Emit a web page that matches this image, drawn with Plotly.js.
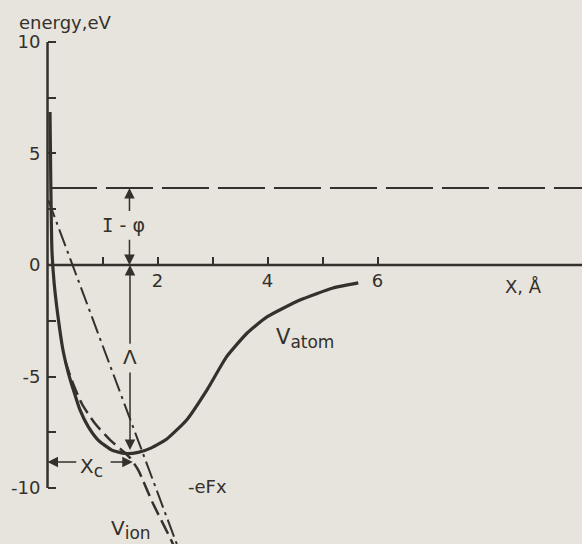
<!DOCTYPE html>
<html>
<head>
<meta charset="utf-8">
<script src="https://cdn.plot.ly/plotly-3.0.1.min.js"></script>
<style>
  html, body { margin: 0; padding: 0; background: #e6e4dc; }
  #plot { width: 582px; height: 544px; }
</style>
</head>
<body>
<div id="plot"></div>
<script>
// Potential energy of the atom and of the ion near a surface under an applied field
const atomX = [0.045, 0.06, 0.08, 0.12, 0.19, 0.28, 0.385, 0.47, 0.59, 0.74, 0.92, 1.17, 1.41, 1.65, 1.89, 2.17, 2.53, 2.90, 3.26, 3.63, 3.99, 4.59, 5.19, 5.65];
const atomY = [6.86, 3.6, 0.67, -0.8, -2.3, -3.8, -4.9, -5.6, -6.5, -7.25, -7.85, -8.3, -8.45, -8.4, -8.2, -7.8, -6.95, -5.6, -4.1, -3.05, -2.33, -1.57, -1.03, -0.8];

const ionX = [0.32, 0.44, 0.62, 0.86, 1.14, 1.35, 1.50, 1.65, 1.90, 2.26, 2.33];
const ionY = [-4.3, -5.16, -6.2, -7.1, -7.85, -8.3, -8.65, -9.2, -10.6, -12.4, -12.8];

const fieldX = [0.015, 2.45];
const fieldY = [2.9, -13.17];

const levelX = [0.045, 9.8];
const levelY = [3.45, 3.45];

const xTickVals = [1, 2, 3, 4, 5, 6];
const xTickText = ['', '2', '', '4', '', '6'];
const yTickVals = [-10, -7.5, -5, -2.5, 0, 2.5, 5, 7.5, 10];
const yTickText = ['-10', '', '-5', '', '0', '', '5', '', '10'];

const ink = '#34302b';
const paper = '#e6e4dc';
const fontFam = '"DejaVu Sans", "Liberation Sans", sans-serif';

const traces = [
  { x: levelX, y: levelY, mode: 'lines', line: { color: ink, width: 2.2, dash: '47px,9px' }, hoverinfo: 'skip' },
  { x: fieldX, y: fieldY, mode: 'lines', line: { color: ink, width: 2, dash: '18px,5px,3px,5px' }, hoverinfo: 'skip' },
  { x: ionX, y: ionY, mode: 'lines', line: { color: ink, width: 2.5, dash: '15px,6px', shape: 'spline', smoothing: 0.7 }, hoverinfo: 'skip' },
  { x: atomX, y: atomY, mode: 'lines', line: { color: ink, width: 3.2, shape: 'spline', smoothing: 0.5 }, hoverinfo: 'skip' }
];

function arrow(x, y, ax, ay) {
  return { x: x, y: y, ax: ax, ay: ay, xref: 'x', yref: 'y', axref: 'x', ayref: 'y',
    text: '', showarrow: true, arrowhead: 2, arrowsize: 1.4, arrowwidth: 1.5, arrowcolor: ink };
}
function label(x, y, text, size, anchor) {
  return { x: x, y: y, xref: 'x', yref: 'y', text: text, showarrow: false,
    font: { family: fontFam, size: size, color: ink }, xanchor: anchor || 'center', yanchor: 'middle' };
}
const sub = (main, s, size) => main + '<sub><span style="font-size:' + size + 'px">' + s + '</span></sub>';

const annotations = [
  arrow(1.49, 3.45, 1.49, 2.35),
  arrow(1.49, 0, 1.49, 1.2),
  arrow(1.50, 0, 1.50, -3.6),
  arrow(1.50, -8.3, 1.50, -4.75),
  arrow(0, -8.83, 0.55, -8.83),
  arrow(1.55, -8.83, 1.12, -8.83),
  label(-0.55, 10.85, 'energy,eV', 18, 'left'),
  label(1.375, 1.79, '<span style="font-family:DejaVu Sans Mono">I</span> - φ', 19),
  label(1.50, -4.13, 'Λ', 20),
  label(0.56, -9.1, sub('X', 'c', 17), 20, 'left'),
  label(2.9, -9.91, '-eFx', 18),
  label(1.12, -11.88, sub('V', 'ion', 17), 20, 'left'),
  label(4.11, -3.3, sub('V', 'atom', 17), 21, 'left'),
  label(8.29, -0.95, 'X, Å', 18, 'left')
];

const layout = {
  width: 582, height: 544,
  margin: { l: 0, r: 0, t: 0, b: 0 },
  paper_bgcolor: paper, plot_bgcolor: paper,
  showlegend: false,
  xaxis: {
    range: [-0.864, 9.718], anchor: 'free', position: 0.5129,
    showline: false, zeroline: false, showgrid: false,
    ticks: 'inside', ticklen: 8, tickwidth: 2, tickcolor: ink,
    tickvals: xTickVals, ticktext: xTickText, ticklabelstandoff: 3,
    tickfont: { family: fontFam, size: 18, color: ink }
  },
  yaxis: {
    range: [-12.51, 11.88], anchor: 'free', position: 0.0816,
    showline: false, zeroline: false, showgrid: false,
    ticks: 'inside', ticklen: 8, tickwidth: 2, tickcolor: ink,
    tickvals: yTickVals, ticktext: yTickText, ticklabelstandoff: 7,
    tickfont: { family: fontFam, size: 18, color: ink }
  },
  shapes: [
    { type: 'line', xref: 'x', yref: 'y', x0: 0, x1: 9.8, y0: 0, y1: 0, line: { color: ink, width: 2.5 } },
    { type: 'line', xref: 'x', yref: 'y', x0: 0, x1: 0, y0: -10, y1: 10, line: { color: ink, width: 2.5 } }
  ],
  annotations: annotations
};

Plotly.newPlot('plot', traces, layout, { staticPlot: true, displayModeBar: false });
</script>
</body>
</html>
